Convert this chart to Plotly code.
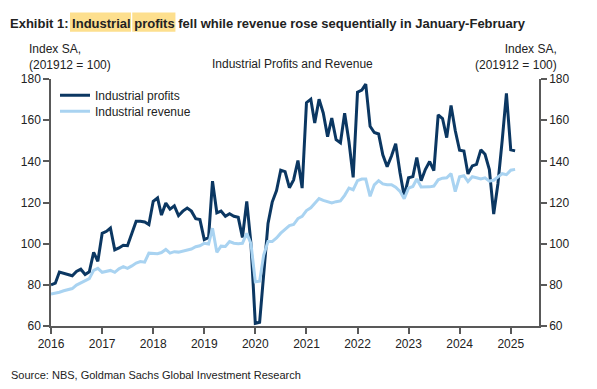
import plotly.graph_objects as go
import pandas as pd

# ---- Data (monthly index, SA, 201912 = 100) ----
start_month = "2016-01-01"
profits = [
    80.0, 80.8, 86.2, 85.5, 85.0, 84.4, 86.5, 87.6, 85.0, 86.3, 95.8, 91.4,      # 2016
    105.0, 106.0, 107.6, 97.0, 97.9, 99.2, 99.0, 105.5, 110.9, 110.9, 110.5, 109.3,  # 2017
    120.6, 122.2, 113.9, 119.7, 116.8, 118.4, 113.6, 115.8, 117.3, 115.8, 112.1, 111.7,  # 2018
    102.0, 103.0, 130.4, 115.0, 115.8, 113.3, 114.5, 113.3, 112.8, 103.0, 120.5, 100.0,  # 2019
    61.3, 61.8, 86.0, 109.8, 120.2, 125.8, 135.7, 135.0, 127.2, 131.0, 140.4, 127.0,  # 2020
    168.5, 170.2, 158.6, 170.2, 163.5, 152.0, 161.0, 150.5, 149.0, 163.4, 149.5, 132.2,  # 2021
    173.6, 174.6, 177.5, 157.0, 154.0, 153.3, 143.2, 137.4, 142.6, 148.5, 134.5, 123.0,  # 2022
    132.0, 132.6, 141.8, 130.6, 136.0, 139.9, 135.5, 162.6, 160.8, 151.5, 167.1, 155.0,  # 2023
    145.4, 145.0, 133.9, 137.8, 138.5, 145.6, 143.4, 136.0, 114.4, 129.0, 150.3, 173.0,  # 2024
    145.6, 145.1,  # 2025
]
revenue = [
    75.5, 75.8, 76.4, 77.1, 77.7, 78.2, 79.9, 81.0, 81.9, 83.0, 87.0, 88.0,
    86.1, 86.5, 87.0, 86.1, 87.8, 88.8, 88.0, 89.2, 90.6, 91.3, 91.0, 95.4,
    95.3, 95.1, 95.7, 97.2, 95.4, 96.1, 95.9, 96.5, 97.0, 97.4, 98.5, 99.0,
    100.2, 99.8, 107.5, 95.8, 98.8, 98.6, 101.0, 100.2, 100.0, 100.2, 105.0, 100.0,
    81.5, 81.8, 94.5, 101.0, 101.0, 102.8, 105.1, 106.8, 108.8, 109.3, 112.2, 113.3,
    116.1, 117.4, 119.7, 121.9, 121.0, 120.3, 119.8, 120.4, 120.8, 123.5, 127.0, 126.2,
    130.6, 131.4, 131.4, 123.0, 128.6, 130.6, 129.0, 128.6, 128.6, 127.4, 125.4, 121.8,
    127.0, 127.8, 131.4, 127.5, 127.4, 127.6, 128.0, 131.0, 131.8, 132.0, 134.0, 125.3,
    132.5, 133.0, 130.2, 132.5, 132.0, 131.4, 132.0, 130.4, 130.8, 132.2, 134.0, 133.5,
    135.7, 136.1,
]
months = pd.date_range(start_month, periods=len(profits), freq="MS")
year_ticks = [str(y) for y in range(2016, 2026)]

NAVY = "#0B3762"
LIGHT = "#A9D3F1"
AX = "#595959"
TXT = "#222222"
FONT = "Arial, Liberation Sans, sans-serif"

# plot-area geometry (pixels)
W, H = 597, 389
L, R, T, B = 51, 539.3, 79.3, 326.0
pw, ph = R - L, B - T


def px(x):
    return (x - L) / pw


def py(y):
    return (B - y) / ph


fig = go.Figure()
fig.add_trace(go.Scatter(x=months, y=profits, name="Industrial profits", mode="lines",
                         line=dict(color=NAVY, width=3), legend="legend"))
fig.add_trace(go.Scatter(x=months, y=revenue, name="Industrial revenue", mode="lines",
                         line=dict(color=LIGHT, width=3), yaxis="y2", legend="legend2"))

axis_common = dict(range=[60, 180], dtick=20, showgrid=False, zeroline=False,
                   showline=True, linecolor=AX, linewidth=1.5, ticks="outside",
                   ticklen=6, tickcolor=AX, tickwidth=1.5,
                   tickfont=dict(family=FONT, size=12, color=TXT))

legend_common = dict(xanchor="left", yanchor="top", bgcolor="rgba(0,0,0,0)",
                     font=dict(family=FONT, size=12, color=TXT))

fig.update_layout(
    width=W, height=H,
    margin=dict(l=L, r=W - R, t=T, b=H - B),
    paper_bgcolor="white", plot_bgcolor="white",
    showlegend=True,
    legend=dict(x=px(55), y=py(81), **legend_common),
    legend2=dict(x=px(55), y=py(97), **legend_common),
    xaxis=dict(type="date", range=["2016-01-01", "2025-07-22"],
               tickvals=[f"{y}-01-01" for y in year_ticks], ticktext=year_ticks,
               showgrid=False, zeroline=False, showline=True, linecolor=AX, linewidth=1.5,
               ticks="outside", ticklen=6, tickcolor=AX, tickwidth=1.5,
               tickfont=dict(family=FONT, size=12, color=TXT)),
    yaxis=dict(**axis_common, side="left"),
    yaxis2=dict(**axis_common, side="right", overlaying="y", matches="y"),
)

# title highlights
for x0, x1 in [(70, 131), (132.3, 175.5)]:
    fig.add_shape(type="rect", xref="paper", yref="paper", x0=px(x0), x1=px(x1),
                  y0=py(32), y1=py(13), fillcolor="#FDDF8E", line=dict(width=0), layer="below")

ann = [
    dict(text="<b>Exhibit 1: Industrial profits fell while revenue rose sequentially in January-February</b>",
         x=px(7.5), y=py(23.5), xanchor="left", align="left", size=13),
    dict(text="Index SA,<br>(201912 = 100)", x=px(26.8), y=py(57.5), xanchor="left",
         align="left", size=12),
    dict(text="Index SA,<br>(201912 = 100)", x=px(559.5), y=py(57.5), xanchor="right",
         align="right", size=12),
    dict(text="Industrial Profits and Revenue", x=px(293), y=py(64), xanchor="center",
         align="center", size=12),
    dict(text="Source: NBS, Goldman Sachs Global Investment Research", x=px(9), y=py(375),
         xanchor="left", align="left", size=11),
]
for a in ann:
    fig.add_annotation(text=a["text"], x=a["x"], y=a["y"], xref="paper", yref="paper",
                       xanchor=a["xanchor"], yanchor="middle", align=a["align"],
                       showarrow=False,
                       font=dict(family=FONT, size=a["size"], color=TXT))

fig.write_html("out.html", config={"displayModeBar": False},
               post_script="document.body.style.margin='0px';")
